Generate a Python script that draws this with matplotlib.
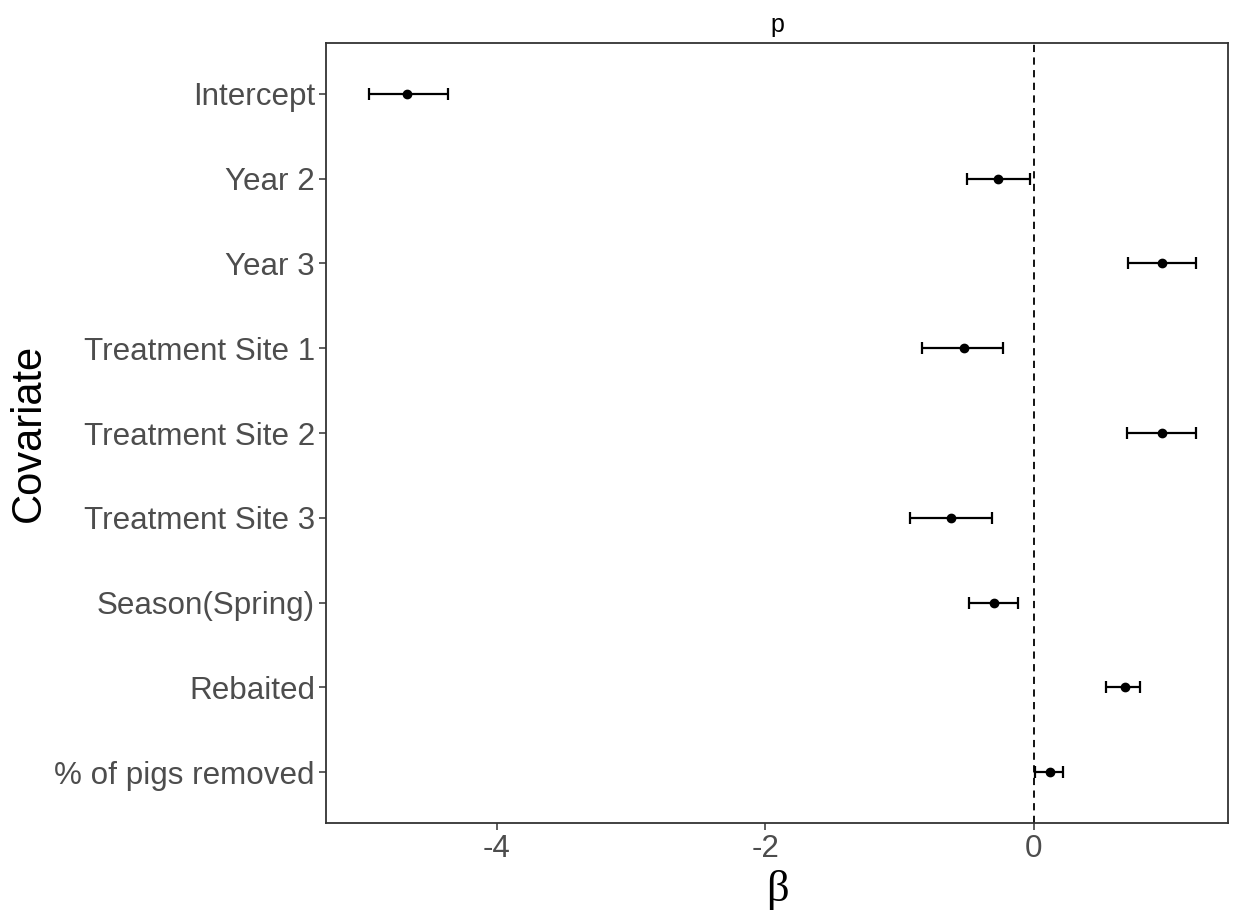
import numpy as np
import matplotlib.pyplot as plt

covariates = ["Intercept", "Year 2", "Year 3", "Treatment Site 1", "Treatment Site 2",
              "Treatment Site 3", "Season(Spring)", "Rebaited", "% of pigs removed"]
beta = [-4.67, -0.27, 0.95, -0.52, 0.95, -0.62, -0.30, 0.68, 0.12]
lower = [-4.95, -0.50, 0.70, -0.83, 0.69, -0.92, -0.48, 0.54, 0.01]
upper = [-4.36, -0.03, 1.21, -0.23, 1.21, -0.31, -0.12, 0.79, 0.22]


def main():
    plt.rcParams['font.family'] = ['Liberation Sans', 'DejaVu Sans']
    fig = plt.figure(figsize=(12.38, 9.13), dpi=100)
    ax = fig.add_axes([326 / 1238, 1 - 823 / 913, 902 / 1238, 780 / 913])

    y = np.arange(len(covariates))
    b = np.array(beta)
    err = [b - np.array(lower), np.array(upper) - b]
    ax.axvline(0, color='black', linestyle=(0, (4, 3)), linewidth=1.3, zorder=1)
    ax.errorbar(b, y, xerr=err, fmt='o', color='black', markersize=6,
                elinewidth=1.6, capsize=4.5, capthick=1.6, zorder=3)

    ax.set_xlim(-5.27, 1.445)
    ax.set_ylim(len(covariates) - 0.4, -0.6)
    ax.set_xticks([-4, -2, 0])
    ax.set_xticklabels(['-4', '-2', '0'])
    ax.set_yticks(y)
    ax.set_yticklabels(covariates)
    ax.tick_params(axis='both', labelsize=22.6, labelcolor='#4D4D4D', length=5,
                   width=1.1, color='#333333', pad=3)

    for s in ax.spines.values():
        s.set_linewidth(1.3)
        s.set_color('#333333')

    ax.set_ylabel("Covariate", fontsize=30)
    ax.yaxis.set_label_coords(-0.307, 0.5)
    ax.set_xlabel("β", fontsize=32, family=['Liberation Serif', 'DejaVu Serif'], labelpad=4)
    ax.set_title("p", fontsize=18, pad=8)

    fig.savefig('out.png', dpi=100)


if __name__ == "__main__":
    main()
